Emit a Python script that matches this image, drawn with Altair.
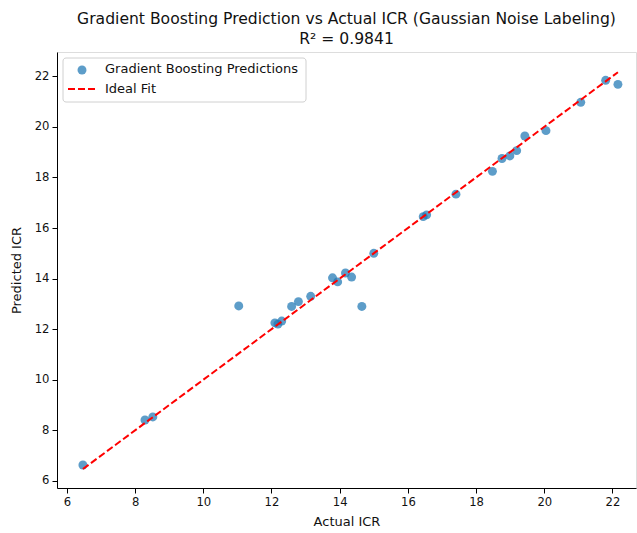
import altair as alt
import pandas as pd

actual = [6.47, 8.29, 8.52, 11.04, 12.10, 12.19, 12.30, 12.59, 12.79, 13.15,
          13.79, 13.94, 14.17, 14.35, 14.65, 15.00, 16.45, 16.55, 17.41, 18.48,
          18.76, 18.99, 19.19, 19.43, 20.05, 21.07, 21.80, 22.16]
predicted = [6.63, 8.41, 8.53, 12.92, 12.25, 12.20, 12.32, 12.90, 13.09, 13.30,
             14.03, 13.87, 14.22, 14.06, 12.90, 15.00, 16.45, 16.52, 17.34, 18.24,
             18.75, 18.85, 19.06, 19.64, 19.85, 20.97, 21.84, 21.68]
ticks = [6, 8, 10, 12, 14, 16, 18, 20, 22]

FONT = "DejaVu Sans"
W, H = 579, 436

pts = pd.DataFrame({"actual": actual, "predicted": predicted})
lo, hi = min(actual), max(actual)
line_df = pd.DataFrame({"actual": [lo, hi], "predicted": [lo, hi]})

xs = alt.Scale(domain=[5.71, 22.69], nice=False, zero=False)
ys = alt.Scale(domain=[5.72, 22.96], nice=False, zero=False)

axis_common = dict(values=ticks, grid=False, domainColor="black", tickColor="black",
                   tickSize=5, labelFont=FONT, labelFontSize=11.6, labelColor="#111111",
                   titleFont=FONT, titleFontSize=13, titleFontWeight="normal",
                   titleColor="#111111", labelPadding=3)

xaxis = alt.Axis(title="Actual ICR", titlePadding=8, **axis_common)
yaxis = alt.Axis(title="Predicted ICR", titlePadding=11, **axis_common)

scatter = alt.Chart(pts).mark_circle(size=80, opacity=0.72, color="#1f77b4").encode(
    x=alt.X("actual:Q", scale=xs, axis=xaxis),
    y=alt.Y("predicted:Q", scale=ys, axis=yaxis),
)

ideal = alt.Chart(line_df).mark_line(color="red", strokeWidth=2, strokeDash=[7, 3]).encode(
    x=alt.X("actual:Q", scale=xs),
    y=alt.Y("predicted:Q", scale=ys),
)

one = pd.DataFrame({"a": [0]})
leg_box = alt.Chart(one).mark_rect(fill="white", fillOpacity=0.8, stroke="#d0d0d0",
                                   strokeWidth=1, cornerRadius=3).encode(
    x=alt.value(6), x2=alt.value(249), y=alt.value(6), y2=alt.value(50))
leg_pt = alt.Chart(one).mark_circle(size=80, opacity=0.72, color="#1f77b4").encode(
    x=alt.value(25), y=alt.value(18))
leg_line = alt.Chart(one).mark_rule(color="red", strokeWidth=2, strokeDash=[7, 3]).encode(
    x=alt.value(11), x2=alt.value(39), y=alt.value(37))
leg_t1 = alt.Chart(one).mark_text(text="Gradient Boosting Predictions", align="left",
                                  baseline="middle", font=FONT, fontSize=13,
                                  color="#111111").encode(x=alt.value(48), y=alt.value(17))
leg_t2 = alt.Chart(one).mark_text(text="Ideal Fit", align="left", baseline="middle",
                                  font=FONT, fontSize=13,
                                  color="#111111").encode(x=alt.value(48), y=alt.value(37))

chart = alt.layer(scatter, ideal, leg_box, leg_pt, leg_line, leg_t1, leg_t2).properties(
    width=W, height=H,
    title=alt.TitleParams(
        text=["Gradient Boosting Prediction vs Actual ICR (Gaussian Noise Labeling)",
              "R² = 0.9841"],
        font=FONT, fontSize=15.6, fontWeight="normal", color="#111111",
        anchor="middle", frame="group", offset=4.5, lineHeight=19.5),
    autosize=alt.AutoSizeParams(type="none"),
    padding={"left": 57, "top": 52, "right": 1, "bottom": 45},
).configure_view(stroke="black", strokeWidth=1).configure(background="white")

chart.save("out.html", embed_options={"renderer": "svg", "actions": False})
